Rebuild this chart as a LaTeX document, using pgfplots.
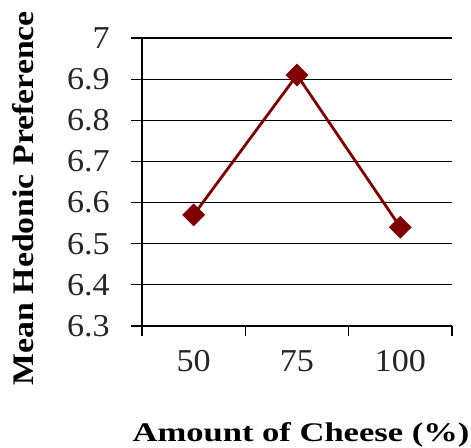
\documentclass[border=0pt]{standalone}
\usepackage{fontspec}
\setmainfont{Liberation Serif}
\usepackage{graphicx}
\usepackage{pgfplots}
\pgfplotsset{compat=1.18}
\definecolor{dred}{HTML}{800000}
\begin{document}
\begin{tikzpicture}
\path[use as bounding box] (-142bp,-122bp) rectangle (329bp,326bp);
\begin{axis}[
  at={(0,0)}, anchor=south west,
  scale only axis, width=310bp, height=288bp,
  xmin=-0.5, xmax=2.5, ymin=6.3, ymax=7,
  xtick={0,1,2},
  xticklabels={\scalebox{1.07}[1]{50},\scalebox{1.07}[1]{75},\scalebox{1.07}[1]{100}},
  minor xtick={-0.5,0.5,1.5,2.5},
  ytick={6.3,6.4,...,7.01},
  yticklabel={\scalebox{1.07}[1]{\pgfmathprintnumber{\tick}}},
  /pgf/number format/fixed,
  /pgf/number format/assume math mode=true,
  tick align=outside,
  major tick length=11bp, minor tick length=10bp,
  x tick style={draw=none},
  minor x tick style={draw=black, line width=1.2bp},
  y tick style={line width=1.2bp, black},
  ymajorgrids, grid style={black, line width=1.2bp},
  axis line style={line width=1.2bp},
  axis x line*=bottom, axis y line*=left,
  tick label style={font=\fontsize{32}{32}\selectfont, text=black!85, inner sep=0pt},
  xticklabel style={yshift=-13bp},
  yticklabel style={xshift=-21bp},
  xlabel={\scalebox{1.285}[1]{\textbf{Amount of Cheese (\%)}}},
  ylabel={\scalebox{1.13}[1]{\textbf{Mean Hedonic Preference}}},
  every axis x label/.style={at={(rel axis cs:0.513,-0.400)}, anchor=base, font=\fontsize{27}{27}\selectfont, inner sep=0pt},
  every axis y label/.style={at={(rel axis cs:-0.384,0.444)}, anchor=center, rotate=90, font=\fontsize{30}{30}\selectfont, inner sep=0pt},
]
\addplot[color=dred, line width=2.8bp, mark=square*, mark size=7.8bp, mark options={rotate=45, fill=dred, draw=dred, line width=0.5bp}]
  coordinates {(0,6.57) (1,6.91) (2,6.54)};
\end{axis}
\end{tikzpicture}
\end{document}
